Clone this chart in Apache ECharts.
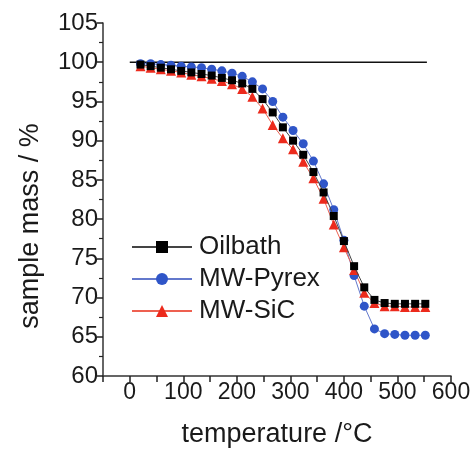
<!DOCTYPE html>
<html>
<head>
<meta charset="utf-8">
<script src="https://cdn.jsdelivr.net/npm/echarts@6/dist/echarts.min.js"></script>
<style>
html,body{margin:0;padding:0;background:#fff;}
#c{width:476px;height:451px;}
</style>
</head>
<body>
<div id="c"></div>
<script>
// temperature (°C)
const temps = [20, 39, 58, 77, 96, 115, 134, 153, 172, 191, 210, 229, 248, 267, 286, 305, 324, 343, 362, 381, 400, 419, 438, 457, 476, 495, 514, 533, 552];
// sample mass (%)
const oilbath = [99.7, 99.5, 99.3, 99.1, 98.9, 98.7, 98.5, 98.3, 98.0, 97.7, 97.3, 96.6, 95.3, 93.6, 91.7, 90.0, 88.2, 86.0, 83.4, 80.4, 77.2, 74.0, 71.3, 69.7, 69.3, 69.2, 69.2, 69.2, 69.2];
const mwPyrex = [99.8, 99.8, 99.7, 99.6, 99.5, 99.4, 99.3, 99.1, 98.9, 98.6, 98.2, 97.5, 96.6, 95.0, 93.0, 91.3, 89.6, 87.4, 84.5, 81.2, 77.3, 72.8, 68.9, 66.0, 65.4, 65.3, 65.2, 65.2, 65.2];
const mwSiC = [99.5, 99.3, 99.1, 98.9, 98.7, 98.4, 98.2, 97.9, 97.6, 97.2, 96.6, 95.6, 94.1, 92.0, 90.3, 88.9, 87.3, 85.2, 82.6, 79.3, 76.4, 73.5, 70.6, 69.3, 68.9, 68.9, 68.8, 68.8, 68.8];
// reference line at 100 %
const refX = [0, 555];
const refY = [100, 100];
const seriesNames = ['Oilbath', 'MW-Pyrex', 'MW-SiC'];

const pairs = (xs, ys) => xs.map((x, i) => [x, ys[i]]);
const FONT = '"Liberation Sans", Arial, sans-serif';
const chart = echarts.init(document.getElementById('c'), null, {renderer: 'canvas'});
chart.setOption({
  animation: false,
  backgroundColor: '#fff',
  grid: {left: 103, right: 25, top: 23, bottom: 75, containLabel: false, outerBoundsMode: 'none'},
  xAxis: {
    type: 'value', min: -50, max: 600, interval: 50,
    axisLine: {show: true, onZero: false, lineStyle: {color: '#333', width: 1.5}},
    axisTick: {show: true, inside: false, length: 6, lineStyle: {color: '#222', width: 1.5}},
    axisLabel: {
      fontFamily: FONT, fontSize: 23, color: '#1a1a1a', margin: 5,
      formatter: v => (v >= 0 && v % 100 === 0) ? String(v) : ''
    },
    splitLine: {show: false}
  },
  yAxis: {
    type: 'value', min: 60, max: 105, interval: 5,
    axisLine: {show: true, onZero: false, lineStyle: {color: '#333', width: 1.5}},
    axisTick: {show: true, inside: false, length: 6, lineStyle: {color: '#222', width: 1.5}},
    minorTick: {show: true, splitNumber: 2, length: 4, lineStyle: {color: '#222', width: 1.2}},
    axisLabel: {fontFamily: FONT, fontSize: 24, color: '#1a1a1a', margin: 5},
    splitLine: {show: false}
  },
  legend: {
    data: seriesNames,
    orient: 'vertical',
    left: 126, top: 229,
    itemWidth: 60, itemHeight: 15, itemGap: 6,
    textStyle: {fontFamily: FONT, fontSize: 26, color: '#1a1a1a', lineHeight: 26, padding: [0, 0, 0, 2]}
  },
  graphic: [
    {type: 'text', x: 277, y: 435, style: {text: 'temperature /°C', font: '27px ' + FONT, fill: '#1a1a1a', align: 'center', verticalAlign: 'middle'}},
    {type: 'text', x: 31, y: 226, rotation: Math.PI / 2, style: {text: 'sample mass / %', font: '27px ' + FONT, fill: '#1a1a1a', align: 'center', verticalAlign: 'middle'}}
  ],
  series: [
    {
      name: 'ref', type: 'line', data: pairs(refX, refY), showSymbol: false, silent: true,
      lineStyle: {color: '#111', width: 1.5}, z: 1
    },
    {
      name: seriesNames[0], type: 'line', data: pairs(temps, oilbath),
      symbol: 'rect', symbolSize: 8,
      itemStyle: {color: '#000'}, lineStyle: {color: '#444', width: 1}, z: 3
    },
    {
      name: seriesNames[1], type: 'line', data: pairs(temps, mwPyrex),
      symbol: 'circle', symbolSize: 9,
      itemStyle: {color: '#2f55c8'}, lineStyle: {color: '#6378cc', width: 1}, z: 2
    },
    {
      name: seriesNames[2], type: 'line', data: pairs(temps, mwSiC),
      symbol: 'triangle', symbolSize: 10,
      itemStyle: {color: '#ec2a1c'}, lineStyle: {color: '#ee6050', width: 1}, z: 2
    }
  ]
});
</script>
</body>
</html>
